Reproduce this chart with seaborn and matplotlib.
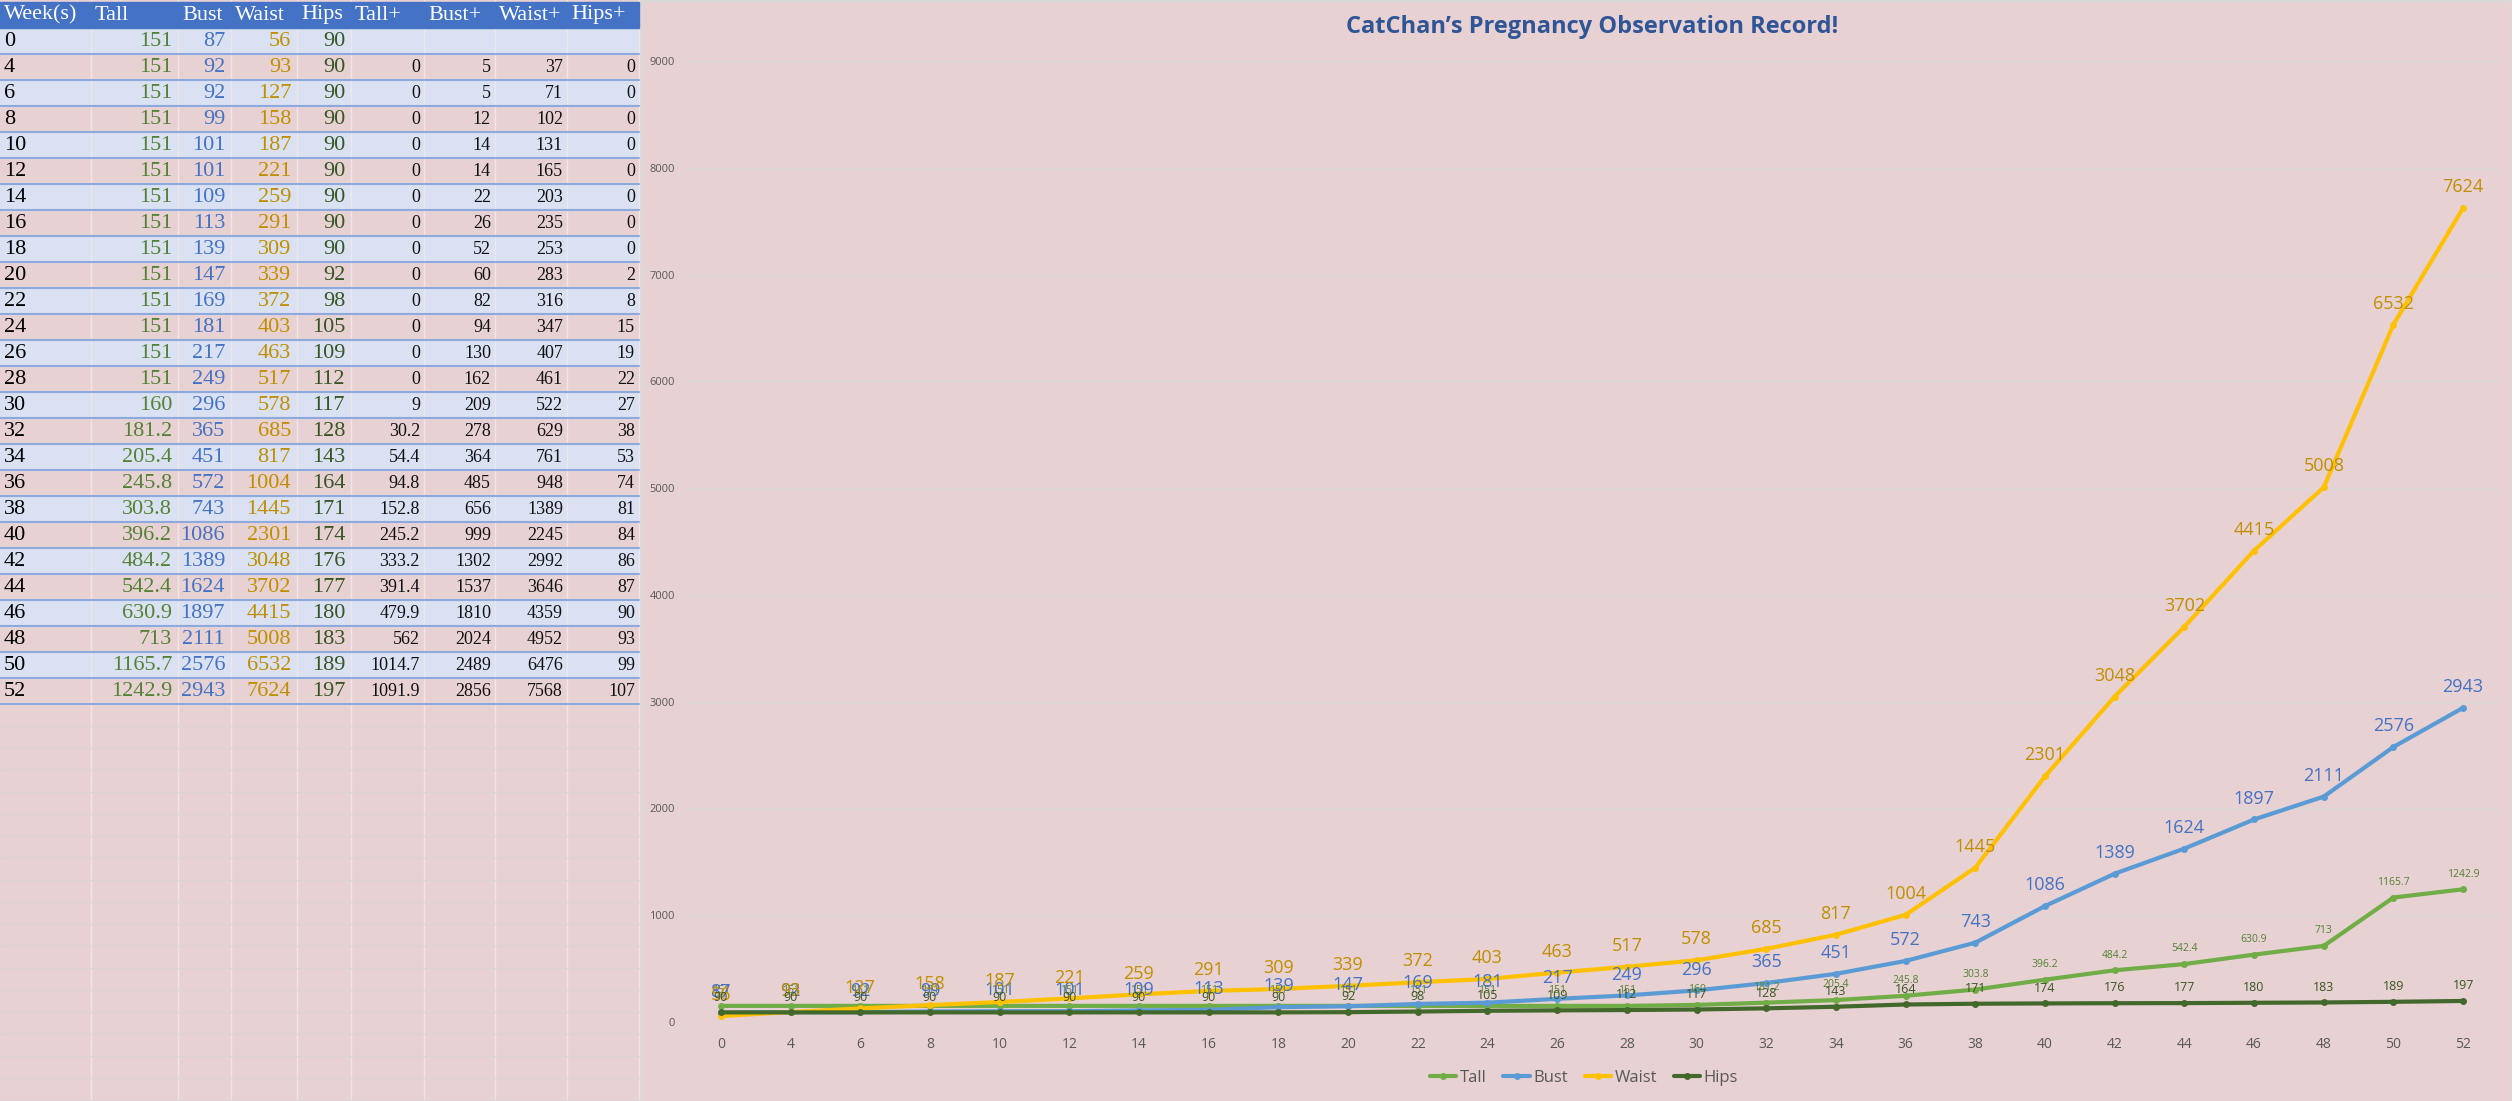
import pandas as pd
import numpy as np
import seaborn as sns
import matplotlib.pyplot as plt
from matplotlib.patches import Rectangle
from matplotlib.lines import Line2D

# data
weeks = [0, 4, 6, 8, 10, 12, 14, 16, 18, 20, 22, 24, 26, 28, 30, 32, 34, 36, 38, 40, 42, 44, 46, 48, 50, 52]
tall = [151, 151, 151, 151, 151, 151, 151, 151, 151, 151, 151, 151, 151, 151, 160, 181.2, 205.4, 245.8,
        303.8, 396.2, 484.2, 542.4, 630.9, 713, 1165.7, 1242.9]
bust = [87, 92, 92, 99, 101, 101, 109, 113, 139, 147, 169, 181, 217, 249, 296, 365, 451, 572, 743, 1086,
        1389, 1624, 1897, 2111, 2576, 2943]
waist = [56, 93, 127, 158, 187, 221, 259, 291, 309, 339, 372, 403, 463, 517, 578, 685, 817, 1004, 1445,
         2301, 3048, 3702, 4415, 5008, 6532, 7624]
hips = [90, 90, 90, 90, 90, 90, 90, 90, 90, 92, 98, 105, 109, 112, 117, 128, 143, 164, 171, 174, 176,
        177, 180, 183, 189, 197]
tall_plus = [None, 0, 0, 0, 0, 0, 0, 0, 0, 0, 0, 0, 0, 0, 9, 30.2, 54.4, 94.8, 152.8, 245.2, 333.2,
             391.4, 479.9, 562, 1014.7, 1091.9]
bust_plus = [None, 5, 5, 12, 14, 14, 22, 26, 52, 60, 82, 94, 130, 162, 209, 278, 364, 485, 656, 999,
             1302, 1537, 1810, 2024, 2489, 2856]
waist_plus = [None, 37, 71, 102, 131, 165, 203, 235, 253, 283, 316, 347, 407, 461, 522, 629, 761, 948,
              1389, 2245, 2992, 3646, 4359, 4952, 6476, 7568]
hips_plus = [None, 0, 0, 0, 0, 0, 0, 0, 0, 2, 8, 15, 19, 22, 27, 38, 53, 74, 81, 84, 86, 87, 90, 93,
             99, 107]

headers = ['Week(s)', 'Tall', 'Bust', 'Waist', 'Hips', 'Tall+', 'Bust+', 'Waist+', 'Hips+']

PINK = '#E8D1D2'
BLUE_ROW = '#D9E1F2'
colors = {'Tall': '#70AD47', 'Bust': '#5B9BD5', 'Waist': '#FFC000', 'Hips': '#43682B'}
text_colors = {'Tall': '#548235', 'Bust': '#4472C4', 'Waist': '#BF8F00', 'Hips': '#375623'}

sns.set_style('white')
plt.rcParams['font.family'] = ['Open Sans', 'DejaVu Sans']

W, H = 2512, 1101
fig = plt.figure(figsize=(W / 100, H / 100), dpi=100)
fig.patch.set_facecolor(PINK)

# ---- spreadsheet part, drawn in pixel coords
bg = fig.add_axes([0, 0, 1, 1])
bg.set_xlim(0, W)
bg.set_ylim(H, 0)
bg.axis('off')

edges = [0, 91, 178, 231, 297, 351, 424, 495, 567, 639]
head_h = 28
row_h = 26
table_bottom = head_h + row_h * len(weeks)

for y in np.arange(table_bottom + 22, H, 22):
    bg.plot([0, 639], [y, y], color='#DCD3D6', lw=1)
for x in edges[1:]:
    bg.plot([x, x], [0, H], color='#EEE6E8', lw=1, zorder=1)

bg.add_patch(Rectangle((0, 2), 639, head_h - 2, color='#4472C4', zorder=2))
for j, name in enumerate(headers):
    bg.text(edges[j] + 4, head_h / 2 + 1, name, color='white', fontsize=16,
            family='Liberation Serif', va='center', ha='left', zorder=3)

cols = [('Tall', tall), ('Bust', bust), ('Waist', waist), ('Hips', hips)]
plus_cols = [tall_plus, bust_plus, waist_plus, hips_plus]
for i, wk in enumerate(weeks):
    y0 = head_h + row_h * i
    if i % 2 == 0:
        bg.add_patch(Rectangle((0, y0), 639, row_h, color=BLUE_ROW, zorder=0.5))
    bg.plot([0, 639], [y0 + row_h, y0 + row_h], color='#8EA9DB', lw=1.5, zorder=2)
    yc = y0 + row_h / 2 + 1
    bg.text(4, yc, str(wk), fontsize=16, family='Liberation Serif', va='center', color='black')
    for j, (name, vals) in enumerate(cols):
        bg.text(edges[j + 2] - 6, yc, f'{vals[i]:g}', fontsize=16, family='Liberation Serif',
                va='center', ha='right', color=text_colors[name])
    for j, vals in enumerate(plus_cols):
        if vals[i] is not None:
            bg.text(edges[j + 6] - 4, yc, f'{vals[i]:g}', fontsize=13, family='Liberation Serif',
                    va='center', ha='right', color='#111111')

# chart panel
bg.add_patch(Rectangle((643, 1), W - 643, H, facecolor=PINK, edgecolor='#D9D9D9', lw=1.5, zorder=4))

# ---- line chart
df = pd.DataFrame({'Week': [str(w) for w in weeks], 'Tall': tall, 'Bust': bust,
                   'Waist': waist, 'Hips': hips})
long = df.melt(id_vars='Week', var_name='Part', value_name='cm')

ax = fig.add_axes([686 / W, 1 - 1022 / H, (2498 - 686) / W, (1022 - 61) / H])
ax.set_facecolor('none')
sns.lineplot(data=long, x='Week', y='cm', hue='Part', palette=colors, sort=False,
             marker='o', markersize=5, markeredgewidth=0, linewidth=3, legend=False, ax=ax)

label_style = {'Tall': (7.5, 11), 'Bust': (13, 15), 'Waist': (13, 15), 'Hips': (9, 11)}
for name, vals in cols:
    fs, off = label_style[name]
    for wk, v in zip(df['Week'], vals):
        ax.annotate(f'{v:g}', (wk, v), xytext=(0, off), textcoords='offset points',
                    ha='center', va='center', fontsize=fs, color=text_colors[name])

ax.set_xlim(-0.5, len(weeks) - 0.5)
ax.set_ylim(0, 9000)
ax.set_yticks(range(0, 9001, 1000))
ax.grid(axis='y', color='#D9D9D9', lw=1)
ax.grid(axis='x', visible=False)
for s in ax.spines.values():
    s.set_visible(False)
ax.tick_params(axis='y', length=0, pad=8, labelsize=8, labelcolor='#595959')
ax.tick_params(axis='x', length=0, pad=11, labelsize=10, labelcolor='#595959')
ax.set_xlabel('')
ax.set_ylabel('')

fig.text(1592 / W, 1 - 27 / H, 'CatChan\u2019s Pregnancy Observation Record!', ha='center', va='center',
         fontsize=17, fontweight='bold', color='#2F5597')

handles = [Line2D([], [], color=colors[n], lw=3, marker='o', markersize=5, markeredgewidth=0)
           for n in ['Tall', 'Bust', 'Waist', 'Hips']]
fig.legend(handles, ['Tall', 'Bust', 'Waist', 'Hips'], loc='center', bbox_to_anchor=(1584 / W, 1 - 1078 / H),
           ncol=4, frameon=False, fontsize=12, labelcolor='#595959', handlelength=1.6,
           handletextpad=0.2, columnspacing=1.0)

fig.savefig('out.png', dpi=100, facecolor=PINK)
